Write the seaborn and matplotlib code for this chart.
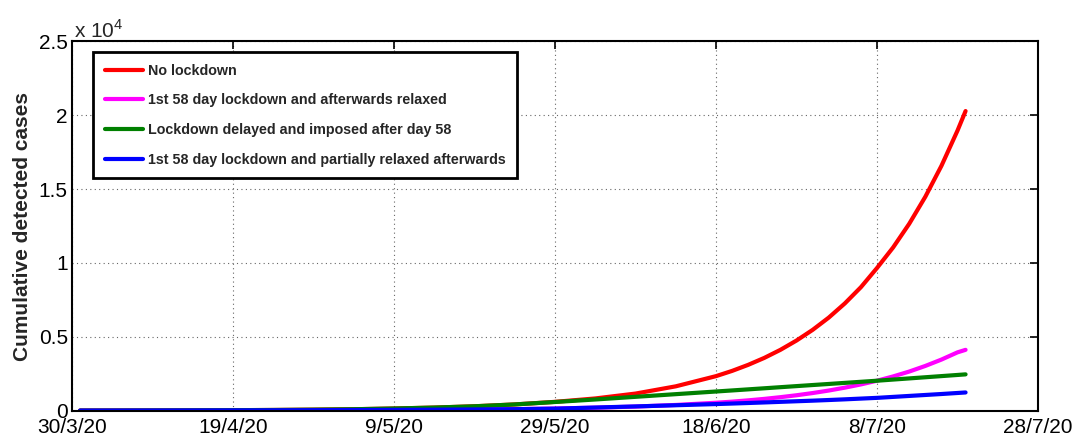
import matplotlib
matplotlib.use("Agg")
import matplotlib.pyplot as plt
import seaborn as sns
import pandas as pd
from matplotlib.ticker import FuncFormatter

# ---- data ----
days = [1, 5, 10, 15, 20, 25, 30, 35, 40, 45, 50, 55, 60, 65, 70, 75,
        80, 82, 84, 86, 88, 90, 92, 94, 96, 98, 100, 102, 104, 106, 108, 110, 111]

no_lockdown = [9, 12, 18, 25, 36, 50, 72, 100, 150, 212, 300, 425, 600, 830, 1160, 1650,
               2340, 2695, 3105, 3575, 4120, 4750, 5470, 6300, 7260, 8360, 9660,
               11050, 12650, 14480, 16570, 18960, 20280]
relaxed = [5, 8, 12, 17, 23, 30, 38, 47, 57, 70, 85, 105, 150, 205, 280, 390,
           540, 614, 702, 801, 916, 1046, 1195, 1365, 1560, 1780, 2030,
           2320, 2650, 3030, 3460, 3950, 4120]
delayed = [9, 12, 18, 25, 36, 50, 72, 100, 150, 212, 300, 425, 590, 760, 940, 1120,
           1300, 1372, 1445, 1518, 1592, 1665, 1738, 1810, 1884, 1957, 2030,
           2108, 2186, 2264, 2342, 2420, 2460]
partial = [5, 8, 12, 17, 23, 30, 38, 47, 57, 70, 85, 105, 140, 215, 290, 370,
           450, 485, 522, 560, 600, 640, 680, 724, 770, 820, 870,
           935, 1000, 1065, 1130, 1200, 1235]

series_names = ["No lockdown",
                "1st 58 day lockdown and afterwards relaxed",
                "Lockdown delayed and imposed after day 58",
                "1st 58 day lockdown and partially relaxed afterwards"]
series_colors = ["#ff0000", "#ff00ff", "#008000", "#0000ff"]

xtick_days = [0, 20, 40, 60, 80, 100, 120]
xtick_labels = ["30/3/20", "19/4/20", "9/5/20", "29/5/20", "18/6/20", "8/7/20", "28/7/20"]
ytick_values = [0, 5000, 10000, 15000, 20000, 25000]

# ---- build long-form table ----
frames = []
for name, vals in zip(series_names, [no_lockdown, relaxed, delayed, partial]):
    frames.append(pd.DataFrame({"day": days, "cases": vals, "scenario": name}))
df = pd.concat(frames, ignore_index=True)

sns.set_style("white")
plt.rcParams["font.family"] = ["Liberation Sans", "DejaVu Sans"]
plt.rcParams["mathtext.fontset"] = "custom"
plt.rcParams["mathtext.rm"] = "Liberation Sans"

fig = plt.figure(figsize=(10.75, 4.38), dpi=100)
ax = fig.add_axes([0.067, 0.0623, 0.8986, 0.8434])

sns.lineplot(data=df, x="day", y="cases", hue="scenario", hue_order=series_names,
             palette=dict(zip(series_names, series_colors)), linewidth=3, ax=ax,
             sort=False, estimator=None)

ax.set_xlim(0, 120)
ax.set_ylim(0, 25000)
ax.set_xticks(xtick_days)
ax.set_xticklabels(xtick_labels)
ax.set_yticks(ytick_values)
ax.yaxis.set_major_formatter(FuncFormatter(lambda v, p: ("%g" % (v / 1e4))))

ax.grid(True, linestyle=(0, (1, 3)), color="#666666", linewidth=0.8)
ax.tick_params(axis="both", direction="in", length=6, width=1.2, labelsize=15,
               top=True, right=True, colors="black")
ax.tick_params(axis="x", pad=5)
ax.tick_params(axis="y", pad=3)
for s in ax.spines.values():
    s.set_visible(True)
    s.set_color("black")
    s.set_linewidth(1.5)

ax.set_xlabel("")
ax.set_ylabel("Cumulative detected cases", fontsize=15, fontweight="bold", labelpad=5)

ax.text(0.002, 1.0, r"x 10$^{\mathregular{4}}$", transform=ax.transAxes,
        fontsize=15, ha="left", va="bottom")

leg = ax.legend(loc="upper left", bbox_to_anchor=(0.0145, 0.99), frameon=True,
                fancybox=False, edgecolor="black", framealpha=1,
                prop={"weight": "bold", "size": 10.3}, handlelength=2.7,
                handletextpad=0.3, labelspacing=1.1, borderpad=0.8, title=None)
leg.get_frame().set_linewidth(2)
for line in leg.get_lines():
    line.set_linewidth(3)

fig.savefig("out.png", dpi=100)
